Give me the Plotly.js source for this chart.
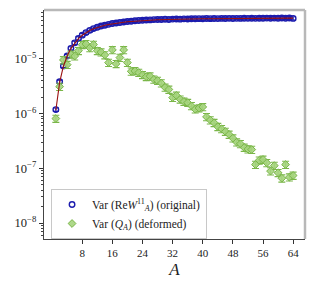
<!DOCTYPE html>
<html><head><meta charset="utf-8">
<script src="https://cdn.plot.ly/plotly-3.0.1.min.js"></script>
<style>html,body{margin:0;padding:0;background:#fff;}#plot{width:315px;height:290px;}</style>
</head><body><div id="plot"></div>
<script>
const sizesA = [1,2,3,4,5,6,7,8,9,10,11,12,13,14,15,16,17,18,19,20,21,22,23,24,25,26,27,28,29,30,31,32,
  33,34,35,36,37,38,39,40,41,42,43,44,45,46,47,48,49,50,51,52,53,54,55,56,57,58,59,60,61,62,63,64];
const varOriginal = [1.18e-6,3.8e-6,7.4e-6,1.12e-5,1.55e-5,1.95e-5,2.35e-5,2.7e-5,3.0e-5,3.3e-5,3.55e-5,3.75e-5,
  3.95e-5,4.1e-5,4.25e-5,4.4e-5,4.5e-5,4.6e-5,4.7e-5,4.8e-5,4.85e-5,4.95e-5,4.98e-5,5.05e-5,5.1e-5,5.12e-5,
  5.18e-5,5.2e-5,5.22e-5,5.25e-5,5.2e-5,5.3e-5,5.32e-5,5.28e-5,5.35e-5,5.33e-5,5.38e-5,5.36e-5,5.4e-5,5.37e-5,
  5.42e-5,5.4e-5,5.44e-5,5.41e-5,5.45e-5,5.43e-5,5.46e-5,5.44e-5,5.47e-5,5.45e-5,5.48e-5,5.46e-5,5.5e-5,5.47e-5,
  5.5e-5,5.48e-5,5.52e-5,5.49e-5,5.52e-5,5.5e-5,5.53e-5,5.5e-5,5.54e-5,5.45e-5];
const fitOriginal = [1.15e-6,3.7e-6,7.3e-6,1.12e-5,1.55e-5,1.95e-5,2.33e-5,2.68e-5,2.98e-5,3.27e-5,3.52e-5,3.73e-5,
  3.92e-5,4.08e-5,4.22e-5,4.35e-5,4.46e-5,4.56e-5,4.65e-5,4.73e-5,4.8e-5,4.87e-5,4.93e-5,4.98e-5,5.03e-5,5.07e-5,
  5.11e-5,5.14e-5,5.17e-5,5.2e-5,5.22e-5,5.24e-5,5.26e-5,5.28e-5,5.3e-5,5.31e-5,5.33e-5,5.34e-5,5.35e-5,5.36e-5,
  5.37e-5,5.38e-5,5.39e-5,5.4e-5,5.41e-5,5.42e-5,5.43e-5,5.43e-5,5.44e-5,5.45e-5,5.45e-5,5.46e-5,5.46e-5,5.47e-5,
  5.47e-5,5.48e-5,5.48e-5,5.49e-5,5.49e-5,5.49e-5,5.5e-5,5.5e-5,5.5e-5,5.51e-5];
const varDeformed = [8.1e-7,3.1e-6,9.5e-6,7.8e-6,1.2e-5,1.12e-5,1.4e-5,1.8e-5,1.86e-5,1.58e-5,1.82e-5,1.4e-5,
  1.32e-5,1.17e-5,8.5e-6,1.45e-5,8.1e-6,1.05e-5,1.45e-5,8.5e-6,5.9e-6,6.0e-6,5.6e-6,5.1e-6,4.7e-6,4.8e-6,
  4.2e-6,4.0e-6,3.6e-6,3.0e-6,2.75e-6,1.95e-6,2.14e-6,1.82e-6,1.66e-6,1.58e-6,1.38e-6,1.2e-6,1.26e-6,1.32e-6,
  8.7e-7,7.6e-7,6.8e-7,5.75e-7,5.25e-7,4.7e-7,4.15e-7,3.55e-7,3.0e-7,2.8e-7,2.4e-7,2.24e-7,2.2e-7,1.17e-7,
  1.4e-7,1.45e-7,1.26e-7,8.9e-8,1.12e-7,8.3e-8,6.6e-8,1.17e-7,6.9e-8,7.4e-8];
const yTickVals = [1e-8,1e-7,1e-6,1e-5];
const yTickText = ['10<sup>−8</sup>','10<sup>−7</sup>','10<sup>−6</sup>','10<sup>−5</sup>'];
const xTickVals = [8,16,24,32,40,48,56,64];
const legendNames = ['Var (Re<i>W</i><sup>11</sup><sub><i>A</i></sub>) (original)', 'Var (<i>Q</i><sub><i>A</i></sub>) (deformed)'];

const minorVals = [];
for (let e = -9; e <= -4; e++) for (let m = 2; m <= 9; m++) minorVals.push(m * Math.pow(10, e));

const blue = '#1c1cae', green = '#7ab648', red = '#9a1010';
const font = 'Liberation Serif, DejaVu Serif, serif';
const traces = [
  {x: sizesA, y: varOriginal, type: 'scatter', mode: 'markers', name: legendNames[0],
   marker: {symbol: 'circle-open', size: 5.5, color: blue, line: {width: 1.4, color: blue}},
   error_y: {type: 'percent', value: 7, color: blue, thickness: 1.1, width: 3}},
  {x: sizesA, y: varDeformed, type: 'scatter', mode: 'markers', name: legendNames[1],
   marker: {symbol: 'diamond', size: 6, color: 'rgba(165,212,125,0.9)', line: {width: 1, color: green}},
   error_y: {type: 'percent', value: 15, color: green, thickness: 1.1, width: 3.5}},
  {x: sizesA, y: fitOriginal, type: 'scatter', mode: 'lines', showlegend: false,
   line: {color: red, width: 1.1}}
];
const layout = {
  width: 315, height: 290,
  margin: {l: 44, r: 10, t: 10, b: 51},
  paper_bgcolor: '#fff', plot_bgcolor: '#fff',
  font: {family: font, color: '#222', size: 10},
  showlegend: true,
  legend: {x: 0.027, y: 0.0, xanchor: 'left', yanchor: 'bottom', bgcolor: '#fff', bordercolor: '#c8c8c8', borderwidth: 1,
    font: {family: font, size: 11.5, color: '#222'}, tracegroupgap: 0, itemwidth: 30},
  xaxis: {range: [-2.15, 67.15], tickvals: xTickVals, ticks: 'outside', ticklen: 4, tickcolor: '#333', showgrid: false,
    zeroline: false, showline: true, linecolor: '#444', linewidth: 1.2, tickfont: {family: font, size: 11},
    title: {text: '<i>A</i>', font: {family: font, size: 17}, standoff: 4}},
  yaxis: {type: 'log', range: [-8.29, -4.11], tickvals: yTickVals, ticktext: yTickText, ticks: 'outside', ticklen: 4,
    tickcolor: '#333', showgrid: false, zeroline: false, showline: true, linecolor: '#444', linewidth: 1.2,
    tickfont: {family: font, size: 12.5},
    minor: {tickvals: minorVals, ticks: 'outside', ticklen: 2, tickcolor: '#444', showgrid: false}},
  shapes: [
    {type: 'line', xref: 'paper', yref: 'paper', x0: 0, x1: 1, y0: 1, y1: 1, line: {color: '#b8b8b8', width: 2.5}},
    {type: 'line', xref: 'paper', yref: 'paper', x0: 1, x1: 1, y0: 0, y1: 1, line: {color: '#b8b8b8', width: 2.5}}
  ]
};
Plotly.newPlot('plot', traces, layout, {staticPlot: true, displayModeBar: false});
</script></body></html>
